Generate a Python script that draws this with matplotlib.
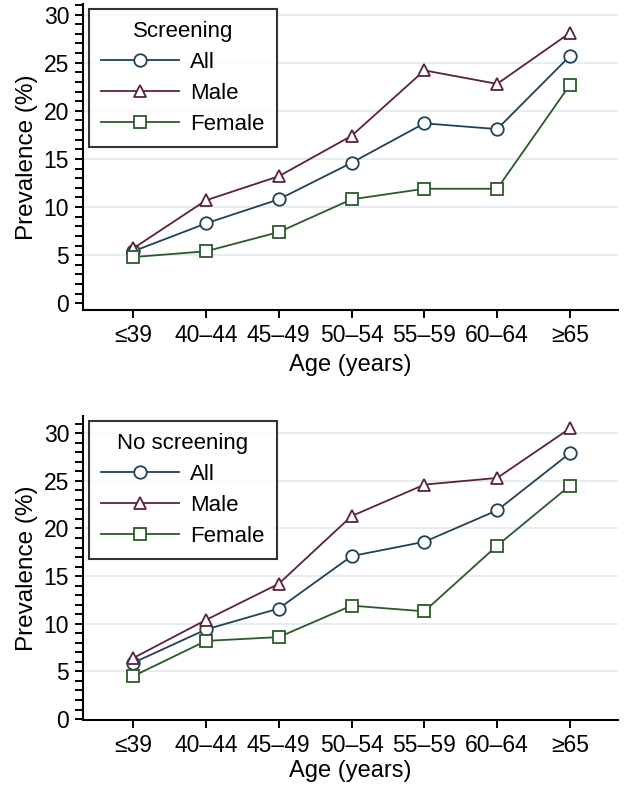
import matplotlib
matplotlib.use("Agg")
import matplotlib.pyplot as plt
from matplotlib.ticker import MultipleLocator

plt.rcParams['font.family'] = ['Liberation Sans', 'DejaVu Sans']

age_groups = ["≤39", "40–44", "45–49", "50–54", "55–59", "60–64", "≥65"]

screen_all = [5.4, 8.3, 10.8, 14.6, 18.7, 18.1, 25.7]
screen_male = [5.7, 10.7, 13.2, 17.4, 24.2, 22.8, 28.1]
screen_female = [4.8, 5.4, 7.4, 10.8, 11.9, 11.9, 22.7]

noscreen_all = [5.9, 9.4, 11.6, 17.1, 18.6, 21.9, 27.9]
noscreen_male = [6.4, 10.4, 14.2, 21.3, 24.6, 25.3, 30.5]
noscreen_female = [4.5, 8.2, 8.6, 11.9, 11.3, 18.2, 24.5]

series_labels = ["All", "Male", "Female"]
panel_titles = ["Screening", "No screening"]
y_ticks = [0, 5, 10, 15, 20, 25, 30]

colors = ["#1f4257", "#5c2236", "#2a5a2a"]
markers = ["o", "^", "s"]

W, H = 625, 790
fig = plt.figure(figsize=(W / 100, H / 100), dpi=100)

def ax_rect(left, top, right, bottom):
    return [left / W, 1 - bottom / H, (right - left) / W, (bottom - top) / H]

panels = [
    (ax_rect(83, 4, 618, 310), [screen_all, screen_male, screen_female], (-0.7, 31.1), 5),
    (ax_rect(83, 416, 618, 720), [noscreen_all, noscreen_male, noscreen_female], (-0.1, 31.8), 2),
]

x = list(range(len(age_groups)))
for i, (rect, data, ylim, lp) in enumerate(panels):
    ax = fig.add_axes(rect)
    for vals, c, m, lab in zip(data, colors, markers, series_labels):
        ax.plot(x, vals, color=c, lw=1.3, marker=m, markersize=9,
                markerfacecolor="white", markeredgecolor=c, markeredgewidth=1.3,
                label=lab, zorder=3)
    ax.set_xlim(-0.69, 6.66)
    ax.set_ylim(*ylim)
    ax.set_xticks(x)
    ax.set_xticklabels(age_groups, fontsize=16.5)
    ax.set_yticks(y_ticks)
    ax.set_yticklabels([str(t) for t in y_ticks], fontsize=16.5)
    ax.yaxis.set_minor_locator(MultipleLocator(1))
    ax.tick_params(axis="y", which="both", length=6, width=1.4, direction="out", pad=4)
    ax.tick_params(axis="x", length=6, width=1.4, direction="out", pad=4)
    for s in ["top", "right"]:
        ax.spines[s].set_visible(False)
    for s in ["left", "bottom"]:
        ax.spines[s].set_linewidth(1.5)
    for t in [5, 10, 15, 20, 25, 30]:
        ax.axhline(t, color="#e3e9f0", lw=1.2, zorder=0)
    ax.set_xlabel("Age (years)", fontsize=17, labelpad=lp)
    ax.set_ylabel("Prevalence (%)", fontsize=17.5, labelpad=4)
    leg = ax.legend(title=panel_titles[i], loc="upper left", bbox_to_anchor=(0.011, 0.985),
                    fontsize=16, title_fontsize=16, frameon=True, fancybox=False,
                    edgecolor="black", handlelength=3.5, handletextpad=0.5,
                    labelspacing=0.45, borderpad=0.55, borderaxespad=0)
    leg.get_frame().set_linewidth(1.5)
    leg.set_zorder(5)

fig.savefig("out.png", dpi=100, facecolor="white")
